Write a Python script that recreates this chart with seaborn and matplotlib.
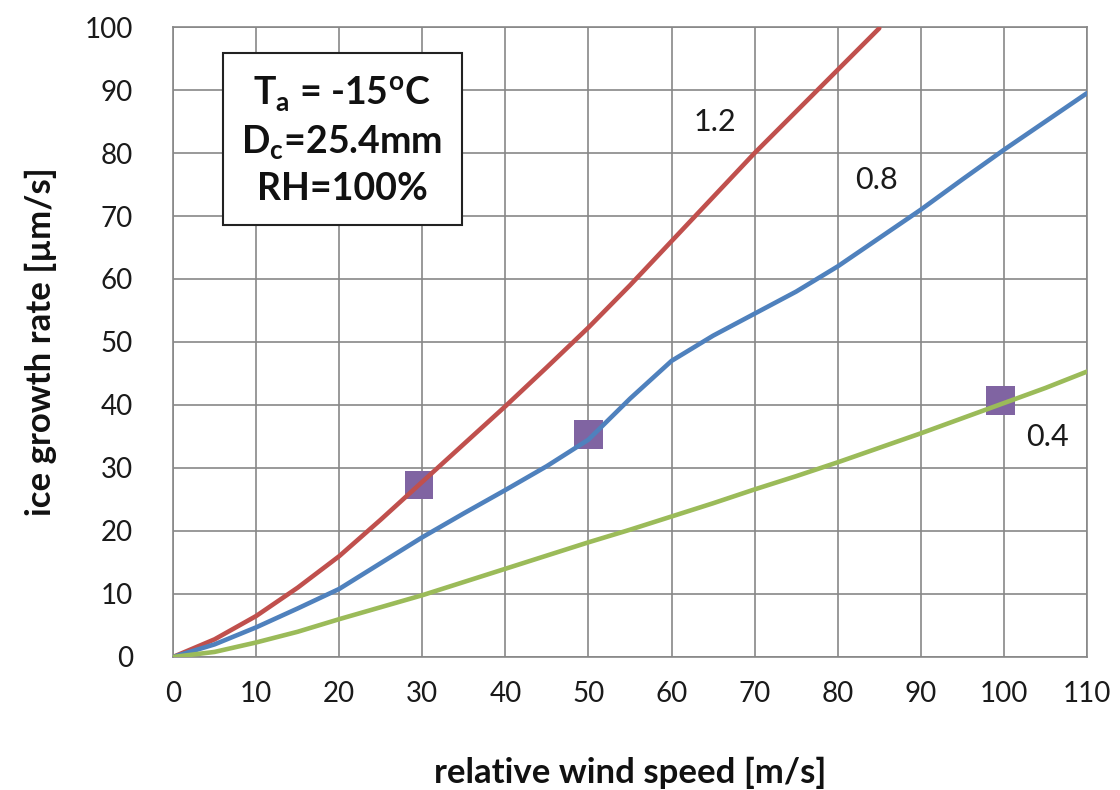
import matplotlib
matplotlib.use("Agg")
import matplotlib.pyplot as plt
import seaborn as sns
import pandas as pd

# Relative wind speed [m/s]
speed = [0, 5, 10, 15, 20, 25, 30, 35, 40, 45, 50, 55, 60, 65, 70, 75, 80, 85, 90, 95, 100, 105, 110]

# Ice growth rate [µm/s] for each droplet parameter
rate_12 = [0, 2.8, 6.5, 11.0, 16.0, 21.8, 27.8, 33.8, 39.8, 46.0, 52.3, 59.0, 66.0, 73.0, 80.0, 86.6, 93.2, 99.8]
rate_08 = [0, 2.0, 4.7, 7.7, 10.8, 14.9, 19.0, 22.8, 26.5, 30.3, 34.5, 41.0, 47.0, 51.0, 54.5, 58.0,
           62.0, 66.5, 71.0, 75.8, 80.5, 85.0, 89.5]
rate_04 = [0, 0.8, 2.3, 4.0, 6.0, 7.9, 9.8, 11.9, 14.0, 16.1, 18.2, 20.2, 22.3, 24.4, 26.6, 28.7,
           30.9, 33.2, 35.5, 37.9, 40.3, 42.7, 45.3]

series_names = ["1.2", "0.8", "0.4"]
series_colors = ["#C0504D", "#4F81BD", "#9BBB59"]

# Measured points
meas_speed = [29.6, 50.0, 99.6]
meas_rate = [27.3, 35.3, 40.7]

# Curve labels
label_x = [65.2, 84.7, 105.2]
label_y = [84.9, 75.7, 34.9]

x_ticks = list(range(0, 111, 10))
y_ticks = list(range(0, 101, 10))

rows = []
for name, vals in zip(series_names, [rate_12, rate_08, rate_04]):
    for s, r in zip(speed, vals):
        rows.append({"speed": s, "rate": r, "param": name})
curves = pd.DataFrame(rows)
points = pd.DataFrame({"speed": meas_speed, "rate": meas_rate})

sns.set_style("white")
plt.rcParams["font.family"] = ["Lato", "DejaVu Sans"]

fig = plt.figure(figsize=(11.2, 7.9), dpi=100)
ax = fig.add_axes([0.1545, 0.1684, 0.8160, 0.7974])

grid_col = "#878787"
ax.set_xlim(0, 110)
ax.set_ylim(0, 100)
ax.set_xticks(x_ticks)
ax.set_yticks(y_ticks)
ax.grid(True, color=grid_col, linewidth=1.2)
ax.set_axisbelow(True)
for sp in ax.spines.values():
    sp.set_color(grid_col)
    sp.set_linewidth(1.2)

sns.lineplot(data=curves, x="speed", y="rate", hue="param", hue_order=series_names,
             palette=series_colors, linewidth=3.3, legend=False, ax=ax, zorder=3)
sns.scatterplot(data=points, x="speed", y="rate", marker="s", s=430, color="#8064A2",
                edgecolor="none", ax=ax, zorder=2, legend=False)

for t, x, y in zip(series_names, label_x, label_y):
    ax.text(x, y, t, fontsize=22, color="#1a1a1a", ha="center", va="center", zorder=4)

ax.text(0.185, 0.8206,
        "T$_{\\mathregular{a}}$ = -15$^{\\mathregular{o}}$C\nD$_{\\mathregular{c}}$=25.4mm\nRH=100%",
        transform=ax.transAxes, ha="center", va="center", fontsize=27, fontweight="bold",
        linespacing=1.35, color="#111111", zorder=5,
        bbox=dict(boxstyle="square,pad=0.5", facecolor="white", edgecolor="#222222", linewidth=1.5))

ax.tick_params(axis="both", which="major", direction="out", length=9, width=1.2,
               color=grid_col, labelsize=20, labelcolor="#1a1a1a")
ax.tick_params(axis="y", pad=20)
ax.tick_params(axis="x", pad=8)

ax.set_xlabel("relative wind speed [m/s]", fontsize=25, fontweight="bold", labelpad=36, color="#111111")
ax.set_ylabel("ice growth rate [µm/s]", fontsize=25, fontweight="bold", labelpad=20, color="#111111")

fig.savefig("out.png", dpi=100, facecolor="white")
